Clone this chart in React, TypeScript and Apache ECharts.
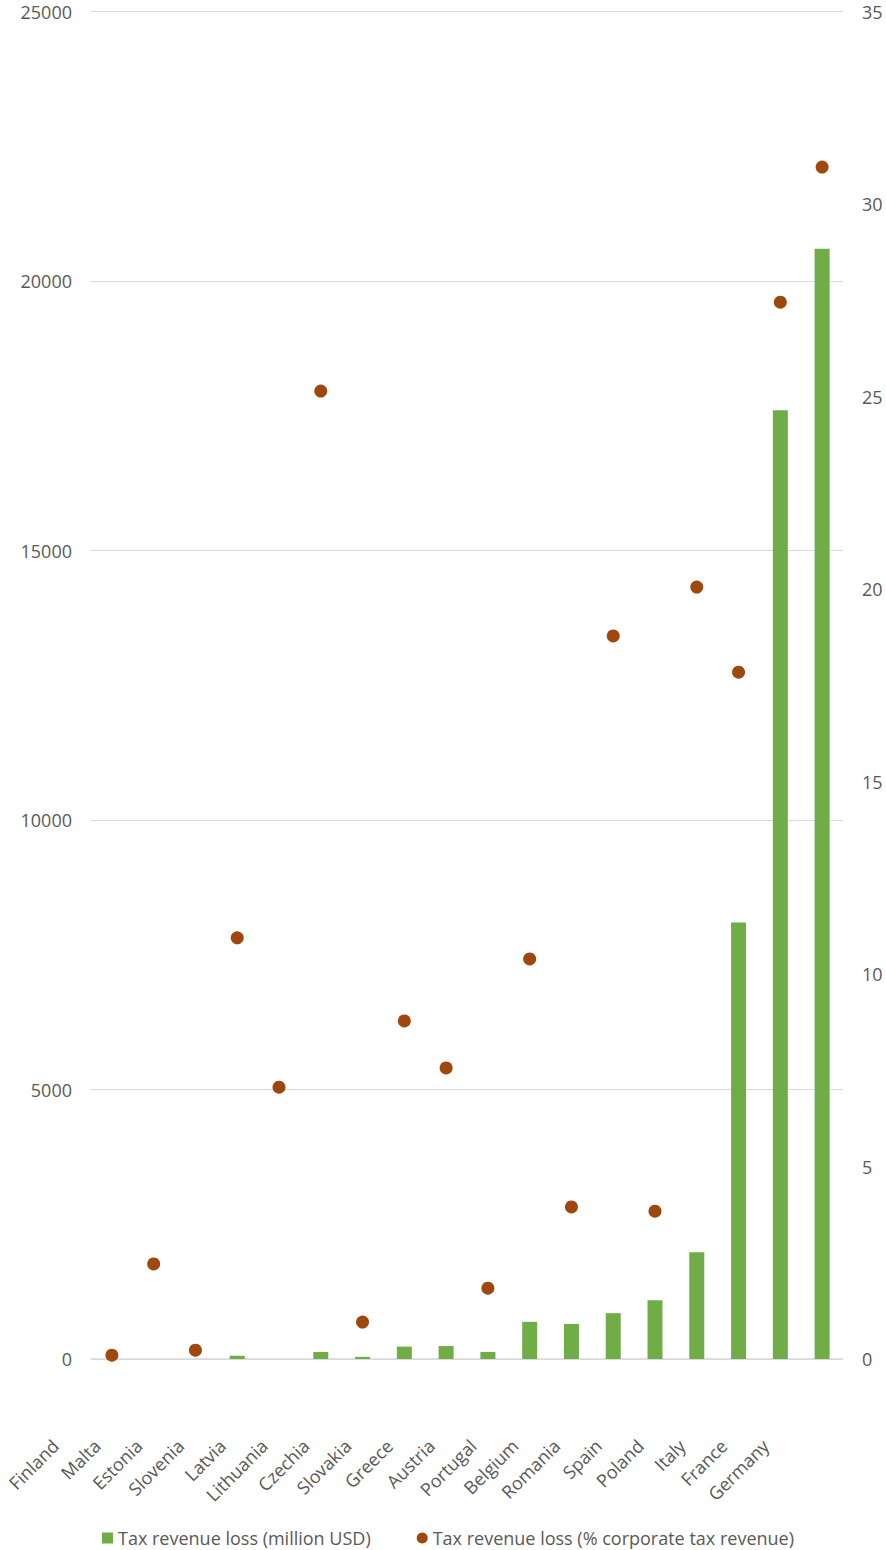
import React, { useEffect, useRef } from "react";
import * as echarts from "echarts";

// Countries ordered as on the category axis
const countries = [
  "Finland", "Malta", "Estonia", "Slovenia", "Latvia", "Lithuania",
  "Czechia", "Slovakia", "Greece", "Austria", "Portugal", "Belgium",
  "Romania", "Spain", "Poland", "Italy", "France", "Germany",
];

// Tax revenue loss, million USD (left axis)
const lossMillionUsd = [
  0, 0, 0, 60, 0, 130,
  40, 230, 240, 130, 690, 650,
  850, 1090, 1980, 8100, 17600, 20600,
];

// Tax revenue loss as % of corporate tax revenue (right axis)
const lossPctCorporate = [
  0.1, 2.47, 0.23, 10.94, 7.06, 25.14,
  0.96, 8.78, 7.56, 1.84, 10.39, 3.95,
  18.78, 3.84, 20.05, 17.84, 27.45, 30.96,
];

const barName = "Tax revenue loss (million USD)";
const dotName = "Tax revenue loss (% corporate tax revenue)";

const FONT = "'Open Sans', 'Noto Sans', sans-serif";
const TEXT_GREY = "#595959";
const GRID_GREY = "#D9D9D9";
const GREEN = "#70AD47";
const BROWN = "#9E480E";

export default function App() {
  const ref = useRef<HTMLDivElement>(null);

  useEffect(() => {
    if (!ref.current) return;
    const chart = echarts.init(ref.current, undefined, { renderer: "svg" });
    chart.setOption({
      animation: false,
      backgroundColor: "#ffffff",
      textStyle: { fontFamily: FONT },
      grid: { left: 91, right: 43, top: 11.5, bottom: 191 },
      legend: {
        top: 1524,
        left: 97,
        itemGap: 46,
        itemWidth: 11,
        itemHeight: 11,
        textStyle: { fontFamily: FONT, fontSize: 18, color: TEXT_GREY },
        data: [
          { name: barName, icon: "rect" },
          { name: dotName, icon: "circle" },
        ],
      },
      xAxis: {
        type: "category",
        data: countries,
        boundaryGap: true,
        axisLine: { show: true, lineStyle: { color: GRID_GREY, width: 1.5 } },
        axisTick: { show: false },
        axisLabel: {
          interval: 0,
          rotate: 45,
          margin: 27,
          padding: [0, 80, 0, 0],
          fontFamily: FONT,
          fontSize: 18,
          color: TEXT_GREY,
        },
      },
      yAxis: [
        {
          type: "value",
          min: 0,
          max: 25000,
          interval: 5000,
          axisLine: { show: false },
          axisTick: { show: false },
          axisLabel: {
            margin: 19,
            fontFamily: FONT,
            fontSize: 18,
            color: TEXT_GREY,
            formatter: (v: number) => String(v),
          },
          splitLine: { show: true, lineStyle: { color: GRID_GREY, width: 1 } },
        },
        {
          type: "value",
          min: 0,
          max: 35,
          interval: 5,
          position: "right",
          axisLine: { show: false },
          axisTick: { show: false },
          axisLabel: { margin: 19, fontFamily: FONT, fontSize: 18, color: TEXT_GREY },
          splitLine: { show: false },
        },
      ],
      series: [
        {
          name: barName,
          type: "bar",
          yAxisIndex: 0,
          data: lossMillionUsd,
          barWidth: 15,
          itemStyle: { color: GREEN },
        },
        {
          name: dotName,
          type: "scatter",
          yAxisIndex: 1,
          data: lossPctCorporate,
          symbol: "circle",
          symbolSize: 13,
          itemStyle: { color: BROWN, opacity: 1 },
        },
      ],
    });
    return () => chart.dispose();
  }, []);

  return (
    <div
      ref={ref}
      style={{ position: "fixed", left: 0, top: 0, width: 886, height: 1550 }}
    />
  );
}
